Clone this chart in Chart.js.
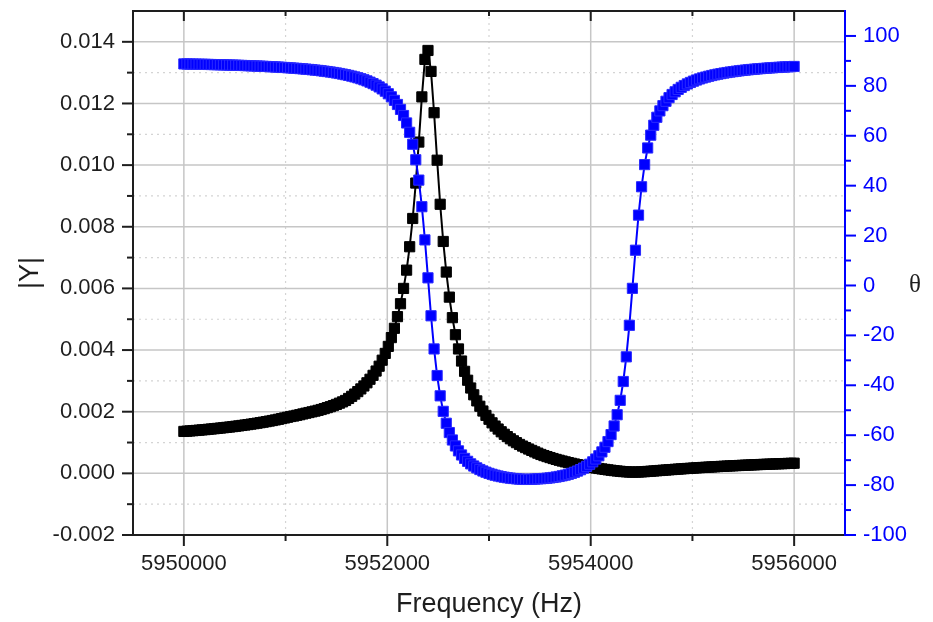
<!DOCTYPE html>
<html>
<head>
<meta charset="utf-8">
<script src="https://cdn.jsdelivr.net/npm/chart.js@4.4.1/dist/chart.umd.min.js"></script>
<style>
  html, body { margin: 0; padding: 0; background: #ffffff; }
  #wrap { width: 933px; height: 622px; }
</style>
</head>
<body>
<div id="wrap"><canvas id="admittanceChart" width="933" height="622"></canvas></div>
<script>
// sweep frequencies (Hz), 30 Hz step
const frequencyHz = [
  5950000,5950030,5950060,5950090,5950120,5950150,5950180,5950210,5950240,5950270,
  5950300,5950330,5950360,5950390,5950420,5950450,5950480,5950510,5950540,5950570,
  5950600,5950630,5950660,5950690,5950720,5950750,5950780,5950810,5950840,5950870,
  5950900,5950930,5950960,5950990,5951020,5951050,5951080,5951110,5951140,5951170,
  5951200,5951230,5951260,5951290,5951320,5951350,5951380,5951410,5951440,5951470,
  5951500,5951530,5951560,5951590,5951620,5951650,5951680,5951710,5951740,5951770,
  5951800,5951830,5951860,5951890,5951920,5951950,5951980,5952010,5952040,5952070,
  5952100,5952130,5952160,5952190,5952220,5952250,5952280,5952310,5952340,5952370,
  5952400,5952430,5952460,5952490,5952520,5952550,5952580,5952610,5952640,5952670,
  5952700,5952730,5952760,5952790,5952820,5952850,5952880,5952910,5952940,5952970,
  5953000,5953030,5953060,5953090,5953120,5953150,5953180,5953210,5953240,5953270,
  5953300,5953330,5953360,5953390,5953420,5953450,5953480,5953510,5953540,5953570,
  5953600,5953630,5953660,5953690,5953720,5953750,5953780,5953810,5953840,5953870,
  5953900,5953930,5953960,5953990,5954020,5954050,5954080,5954110,5954140,5954170,
  5954200,5954230,5954260,5954290,5954320,5954350,5954380,5954410,5954440,5954470,
  5954500,5954530,5954560,5954590,5954620,5954650,5954680,5954710,5954740,5954770,
  5954800,5954830,5954860,5954890,5954920,5954950,5954980,5955010,5955040,5955070,
  5955100,5955130,5955160,5955190,5955220,5955250,5955280,5955310,5955340,5955370,
  5955400,5955430,5955460,5955490,5955520,5955550,5955580,5955610,5955640,5955670,
  5955700,5955730,5955760,5955790,5955820,5955850,5955880,5955910,5955940,5955970,
  5956000
];

// |Y| (S), black squares, left axis
const admittanceMag = [
  0.001360,0.001368,0.001376,0.001384,0.001392,0.001401,0.001410,0.001419,0.001429,0.001439,
  0.001449,0.001459,0.001470,0.001481,0.001492,0.001503,0.001516,0.001528,0.001540,0.001554,
  0.001568,0.001582,0.001597,0.001612,0.001627,0.001644,0.001660,0.001678,0.001696,0.001714,
  0.001733,0.001754,0.001776,0.001797,0.001820,0.001844,0.001860,0.001883,0.001903,0.001928,
  0.001952,0.001973,0.001996,0.002019,0.002044,0.002071,0.002100,0.002132,0.002163,0.002198,
  0.002236,0.002277,0.002319,0.002365,0.002430,0.002499,0.002572,0.002652,0.002740,0.002835,
  0.002938,0.003053,0.003180,0.003319,0.003476,0.003671,0.003891,0.004119,0.004404,0.004706,
  0.005085,0.005503,0.006000,0.006593,0.007352,0.008269,0.009418,0.010748,0.012214,0.013430,
  0.013720,0.013040,0.011700,0.010160,0.008730,0.007523,0.006531,0.005717,0.005051,0.004498,
  0.004036,0.003644,0.003310,0.003021,0.002769,0.002548,0.002351,0.002177,0.002022,0.001881,
  0.001755,0.001639,0.001534,0.001438,0.001349,0.001268,0.001192,0.001121,0.001056,0.000996,
  0.000938,0.000885,0.000836,0.000789,0.000744,0.000697,0.000655,0.000613,0.000577,0.000544,
  0.000512,0.000481,0.000452,0.000425,0.000399,0.000373,0.000349,0.000326,0.000304,0.000283,
  0.000263,0.000244,0.000225,0.000207,0.000190,0.000174,0.000158,0.000143,0.000128,0.000114,
  0.000101,0.0000889,0.0000772,0.0000666,0.0000572,0.0000495,0.0000438,0.0000409,0.0000410,0.0000438,
  0.0000486,0.0000549,0.0000620,0.0000694,0.0000771,0.0000850,0.0000929,0.000101,0.000108,0.000116,
  0.000123,0.000131,0.000138,0.000145,0.000152,0.000159,0.000165,0.000172,0.000178,0.000185,
  0.000191,0.000197,0.000203,0.000208,0.000214,0.000220,0.000225,0.000230,0.000236,0.000241,
  0.000246,0.000251,0.000255,0.000260,0.000265,0.000269,0.000274,0.000278,0.000283,0.000287,
  0.000291,0.000295,0.000299,0.000303,0.000307,0.000311,0.000314,0.000318,0.000322,0.000325,
  0.000329
];

// phase θ (deg), blue squares, right axis
const phaseDeg = [
  88.79,88.77,88.74,88.72,88.69,88.66,88.64,88.61,88.58,88.55,
  88.52,88.49,88.45,88.42,88.38,88.34,88.31,88.27,88.22,88.18,
  88.14,88.09,88.04,87.99,87.94,87.89,87.83,87.77,87.71,87.64,
  87.58,87.51,87.44,87.36,87.28,87.19,87.10,87.01,86.91,86.81,
  86.70,86.58,86.46,86.33,86.19,86.05,85.89,85.73,85.55,85.36,
  85.16,84.95,84.71,84.46,84.19,83.90,83.58,83.24,82.86,82.44,
  81.99,81.47,80.91,80.28,79.57,78.78,77.87,76.83,75.62,74.20,
  72.54,70.55,68.12,65.13,61.38,56.60,50.38,42.23,31.57,18.27,
  3.06,-12.15,-25.43,-36.09,-44.23,-50.44,-55.21,-58.94,-61.92,-64.31,
  -66.28,-67.92,-69.30,-70.47,-71.49,-72.35,-73.10,-73.76,-74.34,-74.84,
  -75.30,-75.68,-76.04,-76.35,-76.61,-76.84,-77.05,-77.21,-77.36,-77.50,
  -77.59,-77.66,-77.73,-77.72,-77.66,-77.58,-77.50,-77.43,-77.35,-77.24,
  -77.11,-76.94,-76.76,-76.54,-76.28,-76.00,-75.67,-75.29,-74.87,-74.38,
  -73.82,-73.20,-72.48,-71.64,-70.67,-69.55,-68.25,-66.69,-64.83,-62.56,
  -59.76,-56.31,-51.80,-46.03,-38.48,-28.60,-15.96,-1.15,14.13,28.20,
  39.56,48.44,55.11,60.24,64.22,67.41,69.97,72.07,73.82,75.27,
  76.54,77.62,78.57,79.40,80.13,80.78,81.36,81.88,82.35,82.78,
  83.17,83.52,83.85,84.14,84.42,84.68,84.91,85.13,85.34,85.53,
  85.70,85.87,86.03,86.18,86.32,86.45,86.57,86.69,86.80,86.91,
  87.00,87.10,87.19,87.27,87.36,87.43,87.51,87.58,87.64,87.71,
  87.77
];

// tick positions (major ones get a label)
const freqTicks  = [5950000, 5951000, 5952000, 5953000, 5954000, 5955000, 5956000];
const magTicks   = [-0.002, -0.001, 0, 0.001, 0.002, 0.003, 0.004, 0.005, 0.006,
                    0.007, 0.008, 0.009, 0.010, 0.011, 0.012, 0.013, 0.014];
const phaseTicks = [-100, -90, -80, -70, -60, -50, -40, -30, -20, -10, 0,
                    10, 20, 30, 40, 50, 60, 70, 80, 90, 100];

const isMajorFreq  = v => v % 2000 === 0;
const isMajorMag   = v => Math.round(v * 1000) % 2 === 0;
const isMajorPhase = v => v % 20 === 0;

const BLUE = '#0000ff';
const INK  = '#1e1e1e';

Chart.defaults.font.family = '"Liberation Sans", Arial, sans-serif';

// Origin-style frame: dotted minor grid, solid major grid, ticks in and out
const originFrame = {
  id: 'originFrame',
  beforeDatasetsDraw(chart) {
    const { ctx, chartArea: a, scales } = chart;
    ctx.save();
    const line = (x1, y1, x2, y2, major) => {
      ctx.beginPath();
      ctx.setLineDash(major ? [] : [2, 4]);
      ctx.strokeStyle = major ? '#c6c6c6' : '#d4d4d4';
      ctx.lineWidth = major ? 1.5 : 1.2;
      ctx.moveTo(x1, y1);
      ctx.lineTo(x2, y2);
      ctx.stroke();
    };
    freqTicks.forEach(v => {
      const px = scales.x.getPixelForValue(v);
      line(px, a.top, px, a.bottom, isMajorFreq(v));
    });
    magTicks.forEach(v => {
      const py = scales.y.getPixelForValue(v);
      if (py > a.bottom - 1) return;
      line(a.left, py, a.right, py, isMajorMag(v));
    });
    ctx.restore();
  },
  afterDraw(chart) {
    const { ctx, chartArea: a, scales } = chart;
    ctx.save();
    ctx.setLineDash([]);
    ctx.lineWidth = 2;
    const seg = (x1, y1, x2, y2, color) => {
      ctx.strokeStyle = color;
      ctx.beginPath();
      ctx.moveTo(x1, y1);
      ctx.lineTo(x2, y2);
      ctx.stroke();
    };
    // axis lines
    seg(a.left, a.top, a.left, a.bottom + 1, INK);
    seg(a.left - 1, a.bottom, a.right, a.bottom, INK);
    seg(a.left - 1, a.top, a.right, a.top, INK);
    seg(a.right, a.top - 1, a.right, a.bottom + 1, BLUE);
    // bottom (outward) + top (inward) ticks
    freqTicks.forEach(v => {
      const px = scales.x.getPixelForValue(v);
      const big = isMajorFreq(v);
      seg(px, a.bottom, px, a.bottom + (big ? 11 : 6), INK);
      seg(px, a.top, px, a.top + (big ? 10 : 5), INK);
    });
    // left ticks
    magTicks.forEach(v => {
      const py = scales.y.getPixelForValue(v);
      seg(a.left, py, a.left - (isMajorMag(v) ? 11 : 6), py, INK);
    });
    // right ticks (blue)
    phaseTicks.forEach(v => {
      const py = scales.y1.getPixelForValue(v);
      seg(a.right, py, a.right + (isMajorPhase(v) ? 11 : 6), py, BLUE);
    });
    // right axis title, upright
    ctx.fillStyle = INK;
    ctx.font = '25px "Liberation Serif", "DejaVu Serif", serif';
    ctx.textAlign = 'center';
    ctx.textBaseline = 'middle';
    ctx.fillText('θ', 915, scales.y1.getPixelForValue(0));
    ctx.restore();
  }
};

const noPad = s => { s.paddingLeft = 0; s.paddingRight = 0; s.paddingTop = 0; s.paddingBottom = 0; };

new Chart(document.getElementById('admittanceChart'), {
  type: 'line',
  data: {
    datasets: [
      {
        label: '|Y|',
        data: frequencyHz.map((f, i) => ({ x: f, y: admittanceMag[i] })),
        yAxisID: 'y',
        order: 1,
        borderColor: '#000000',
        backgroundColor: '#000000',
        borderWidth: 2,
        pointStyle: 'rect',
        pointRadius: 7.2,
        pointBorderWidth: 1,
        pointBorderColor: '#000000',
        pointBackgroundColor: '#000000',
        tension: 0
      },
      {
        label: 'θ',
        data: frequencyHz.map((f, i) => ({ x: f, y: phaseDeg[i] })),
        yAxisID: 'y1',
        order: 0,
        borderColor: BLUE,
        backgroundColor: BLUE,
        borderWidth: 2,
        pointStyle: 'rect',
        pointRadius: 7.2,
        pointBorderWidth: 1,
        pointBorderColor: '#2a2aff',
        pointBackgroundColor: BLUE,
        tension: 0
      }
    ]
  },
  options: {
    responsive: false,
    animation: false,
    devicePixelRatio: 1,
    layout: { padding: { top: 11, left: 0, right: 0, bottom: 0 } },
    plugins: { legend: { display: false }, tooltip: { enabled: false } },
    scales: {
      x: {
        type: 'linear',
        position: 'bottom',
        min: 5949500,
        max: 5956500,
        afterBuildTicks: s => { s.ticks = freqTicks.map(v => ({ value: v })); },
        afterFit: s => { s.height = 87; noPad(s); },
        grid: { display: false, drawTicks: false },
        border: { display: false },
        ticks: {
          autoSkip: false, maxRotation: 0, padding: 16, color: INK,
          font: { size: 22 },
          callback: v => isMajorFreq(v) ? String(v) : ''
        },
        title: {
          display: true, text: 'Frequency (Hz)', color: INK,
          font: { size: 27 }, padding: { top: 0, bottom: 1 }
        }
      },
      y: {
        type: 'linear',
        position: 'left',
        min: -0.002,
        max: 0.015,
        afterBuildTicks: s => { s.ticks = magTicks.map(v => ({ value: v })); },
        afterFit: s => { s.width = 133; noPad(s); },
        grid: { display: false, drawTicks: false },
        border: { display: false },
        ticks: {
          autoSkip: false, padding: 18, color: INK,
          font: { size: 22 },
          callback: v => isMajorMag(v) ? v.toFixed(3) : ''
        },
        title: {
          display: true, text: '|Y|', color: INK,
          font: { size: 27 }, padding: { top: 14, bottom: 0 }
        }
      },
      y1: {
        type: 'linear',
        position: 'right',
        min: -100,
        max: 110,
        afterBuildTicks: s => { s.ticks = phaseTicks.map(v => ({ value: v })); },
        afterFit: s => { s.width = 88; noPad(s); },
        grid: { display: false, drawTicks: false, drawOnChartArea: false },
        border: { display: false },
        ticks: {
          autoSkip: false, padding: 18, color: BLUE,
          font: { size: 22 },
          callback: v => isMajorPhase(v) ? String(v) : ''
        },
        title: { display: false }
      }
    }
  },
  plugins: [originFrame]
});
</script>
</body>
</html>
